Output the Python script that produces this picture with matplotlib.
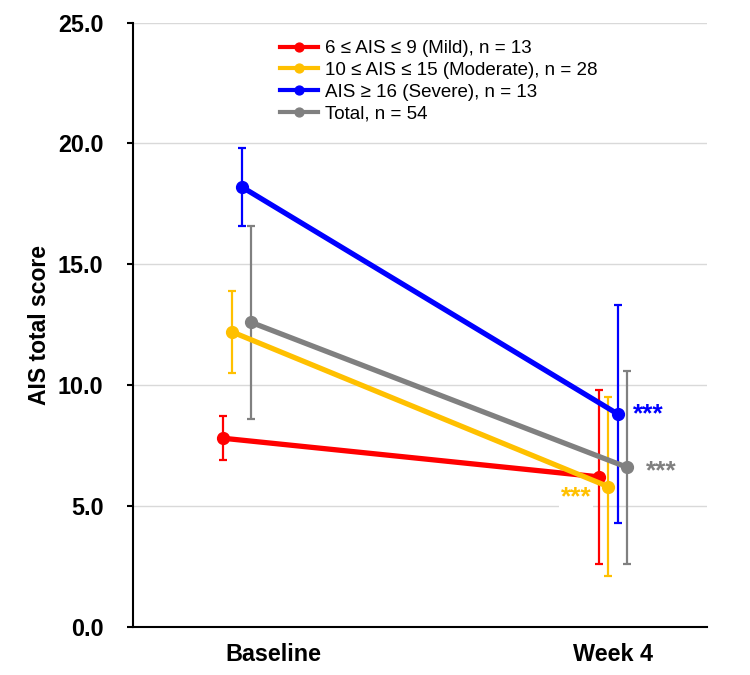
import matplotlib
matplotlib.use("Agg")
import matplotlib.pyplot as plt

plt.rcParams['font.family'] = ['Liberation Sans', 'DejaVu Sans']

timepoints = ['Baseline', 'Week 4']
groups = ['6 ≤ AIS ≤ 9 (Mild), n = 13',
          '10 ≤ AIS ≤ 15 (Moderate), n = 28',
          'AIS ≥ 16 (Severe), n = 13',
          'Total, n = 54']
mild_mean = [7.8, 6.2]
mild_sd = [0.9, 3.6]
moderate_mean = [12.2, 5.8]
moderate_sd = [1.7, 3.7]
severe_mean = [18.2, 8.8]
severe_sd = [1.6, 4.5]
total_mean = [12.6, 6.6]
total_sd = [4.0, 4.0]
sig_labels = ['***', '***', '***']  # moderate, severe, total at week 4

colors = ['#FF0000', '#FFC000', '#0000FF', '#808080']
offsets = [-0.037, -0.013, 0.013, 0.037]
means = [mild_mean, moderate_mean, severe_mean, total_mean]
sds = [mild_sd, moderate_sd, severe_sd, total_sd]

fig = plt.figure(figsize=(7.5, 6.75), dpi=100)
ax = fig.add_axes([0.1773, 0.0716, 0.7653, 0.8948])

base_x = [0, 1]
for name, m, s, c, off in zip(groups, means, sds, colors, offsets):
    xs = [b + off for b in base_x]
    ax.errorbar(xs, m, yerr=s, fmt='none', ecolor=c, elinewidth=1.6,
                capsize=3.0, capthick=1.6, zorder=3)
    ax.plot(xs, m, color=c, lw=3.8, marker='o', markersize=8.5,
            label=name, zorder=4)

# significance markers at week 4
ax.annotate(sig_labels[1], (1 + offsets[2], severe_mean[1]), xytext=(11, 0),
            textcoords='offset points', color=colors[2], fontsize=19,
            fontweight='bold', ha='left', va='center', zorder=5)
ax.annotate(sig_labels[2], (1 + offsets[3], total_mean[1]), xytext=(14, -3),
            textcoords='offset points', color=colors[3], fontsize=19,
            fontweight='bold', ha='left', va='center', zorder=5)
ax.annotate(sig_labels[0], (1 + offsets[1], moderate_mean[1]), xytext=(-12, -8),
            textcoords='offset points', color=colors[1], fontsize=19,
            fontweight='bold', ha='right', va='center', zorder=5,
            bbox=dict(boxstyle='square,pad=0.05', fc='white', ec='none'))

ax.set_xlim(-0.2766, 1.25)
ax.set_ylim(0, 25)
ax.set_yticks([0, 5, 10, 15, 20, 25])
ax.set_yticklabels([f'{v:.1f}' for v in [0, 5, 10, 15, 20, 25]])
ax.set_xticks([0.098, 1.0])
ax.set_xticklabels(timepoints)

ax.tick_params(axis='y', length=4.3, width=1.5, pad=17, labelsize=16.8)
ax.tick_params(axis='x', length=0, pad=12, labelsize=16.8)
for lbl in ax.get_xticklabels() + ax.get_yticklabels():
    lbl.set_fontweight('bold')

ax.set_ylabel('AIS total score', fontsize=16.5, fontweight='bold', labelpad=5)

ax.grid(axis='y', color='#d9d9d9', lw=1)
ax.set_axisbelow(True)
for sp in ['top', 'right']:
    ax.spines[sp].set_visible(False)
for sp in ['left', 'bottom']:
    ax.spines[sp].set_linewidth(1.5)
    ax.spines[sp].set_color('black')

leg = fig.legend(loc='upper left', bbox_to_anchor=(280 / 750, 1 - 40 / 675),
                 frameon=False, fontsize=13.5, handlelength=2.0,
                 handletextpad=0.4, labelspacing=0.25, borderpad=0,
                 borderaxespad=0, markerscale=0.75)
for h in leg.get_lines():
    h.set_linewidth(3)

fig.savefig('out.png', dpi=100)
